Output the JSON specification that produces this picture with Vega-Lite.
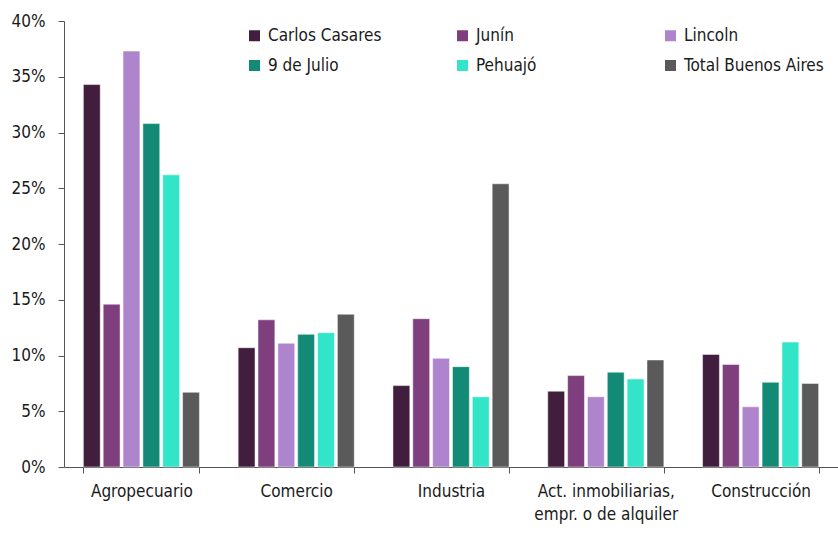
{
  "$schema": "https://vega.github.io/schema/vega-lite/v6.json",
  "autosize": {"type": "none"},
  "padding": {"left": 64, "top": 21, "right": 0, "bottom": 77},
  "width": 774,
  "height": 446,
  "background": "white",
  "config": {
    "view": {"stroke": null},
    "font": "DejaVu Sans Condensed, Roboto, sans-serif",
    "axis": {"labelFont": "DejaVu Sans Condensed, Roboto, sans-serif", "labelFontSize": 17, "labelColor": "#1a1a1a", "domainColor": "#555555", "tickColor": "#555555", "grid": false}
  },
  "data": {
    "values": [
      {"sector": "Agropecuario", "serie": "Carlos Casares", "valor": 0.343},
      {"sector": "Agropecuario", "serie": "Junín", "valor": 0.146},
      {"sector": "Agropecuario", "serie": "Lincoln", "valor": 0.373},
      {"sector": "Agropecuario", "serie": "9 de Julio", "valor": 0.308},
      {"sector": "Agropecuario", "serie": "Pehuajó", "valor": 0.262},
      {"sector": "Agropecuario", "serie": "Total Buenos Aires", "valor": 0.067},
      {"sector": "Comercio", "serie": "Carlos Casares", "valor": 0.107},
      {"sector": "Comercio", "serie": "Junín", "valor": 0.132},
      {"sector": "Comercio", "serie": "Lincoln", "valor": 0.111},
      {"sector": "Comercio", "serie": "9 de Julio", "valor": 0.119},
      {"sector": "Comercio", "serie": "Pehuajó", "valor": 0.1205},
      {"sector": "Comercio", "serie": "Total Buenos Aires", "valor": 0.137},
      {"sector": "Industria", "serie": "Carlos Casares", "valor": 0.073},
      {"sector": "Industria", "serie": "Junín", "valor": 0.133},
      {"sector": "Industria", "serie": "Lincoln", "valor": 0.0975},
      {"sector": "Industria", "serie": "9 de Julio", "valor": 0.090},
      {"sector": "Industria", "serie": "Pehuajó", "valor": 0.063},
      {"sector": "Industria", "serie": "Total Buenos Aires", "valor": 0.254},
      {"sector": "Act. inmobiliarias, empr. o de alquiler", "serie": "Carlos Casares", "valor": 0.068},
      {"sector": "Act. inmobiliarias, empr. o de alquiler", "serie": "Junín", "valor": 0.082},
      {"sector": "Act. inmobiliarias, empr. o de alquiler", "serie": "Lincoln", "valor": 0.063},
      {"sector": "Act. inmobiliarias, empr. o de alquiler", "serie": "9 de Julio", "valor": 0.085},
      {"sector": "Act. inmobiliarias, empr. o de alquiler", "serie": "Pehuajó", "valor": 0.079},
      {"sector": "Act. inmobiliarias, empr. o de alquiler", "serie": "Total Buenos Aires", "valor": 0.096},
      {"sector": "Construcción", "serie": "Carlos Casares", "valor": 0.101},
      {"sector": "Construcción", "serie": "Junín", "valor": 0.092},
      {"sector": "Construcción", "serie": "Lincoln", "valor": 0.054},
      {"sector": "Construcción", "serie": "9 de Julio", "valor": 0.076},
      {"sector": "Construcción", "serie": "Pehuajó", "valor": 0.112},
      {"sector": "Construcción", "serie": "Total Buenos Aires", "valor": 0.075}
    ]
  },
  "mark": {"type": "bar", "stroke": "white", "strokeWidth": 0.5},
  "encoding": {
    "x": {
      "field": "sector", "type": "nominal",
      "sort": ["Agropecuario", "Comercio", "Industria", "Act. inmobiliarias, empr. o de alquiler", "Construcción"],
      "scale": {"paddingInner": 0.25, "paddingOuter": 0.125},
      "axis": {
        "title": null, "labelAngle": 0, "tickBand": "extent", "tickSize": 6, "labelPadding": 10,
        "labelLimit": 300, "labelLineHeight": 23,
        "labelExpr": "datum.label == 'Act. inmobiliarias, empr. o de alquiler' ? ['Act. inmobiliarias,', 'empr. o de alquiler'] : datum.label"
      }
    },
    "xOffset": {
      "field": "serie", "type": "nominal",
      "sort": ["Carlos Casares", "Junín", "Lincoln", "9 de Julio", "Pehuajó", "Total Buenos Aires"],
      "scale": {"paddingInner": 0.15, "paddingOuter": 0}
    },
    "y": {
      "field": "valor", "type": "quantitative",
      "scale": {"domain": [0, 0.4], "nice": false},
      "axis": {"title": null, "format": ".0%", "values": [0, 0.05, 0.1, 0.15, 0.2, 0.25, 0.3, 0.35, 0.4], "tickSize": 6, "labelPadding": 13}
    },
    "color": {
      "field": "serie", "type": "nominal",
      "sort": ["Carlos Casares", "Junín", "Lincoln", "9 de Julio", "Pehuajó", "Total Buenos Aires"],
      "scale": {
        "domain": ["Carlos Casares", "Junín", "Lincoln", "9 de Julio", "Pehuajó", "Total Buenos Aires"],
        "range": ["#421E3E", "#7F3E7D", "#AE85CC", "#138A76", "#33E5C8", "#5A5A5A"]
      },
      "legend": {
        "title": null, "orient": "none", "legendX": 182, "legendY": 6,
        "direction": "horizontal", "columns": 3, "gridAlign": "all", "columnPadding": 46, "rowPadding": 12,
        "symbolType": "square", "symbolSize": 121, "symbolStrokeWidth": 0, "labelOffset": 5,
        "labelFont": "DejaVu Sans Condensed, Roboto, sans-serif", "labelFontSize": 17, "labelColor": "#1a1a1a", "labelLimit": 300, "padding": 0
      }
    }
  }
}
